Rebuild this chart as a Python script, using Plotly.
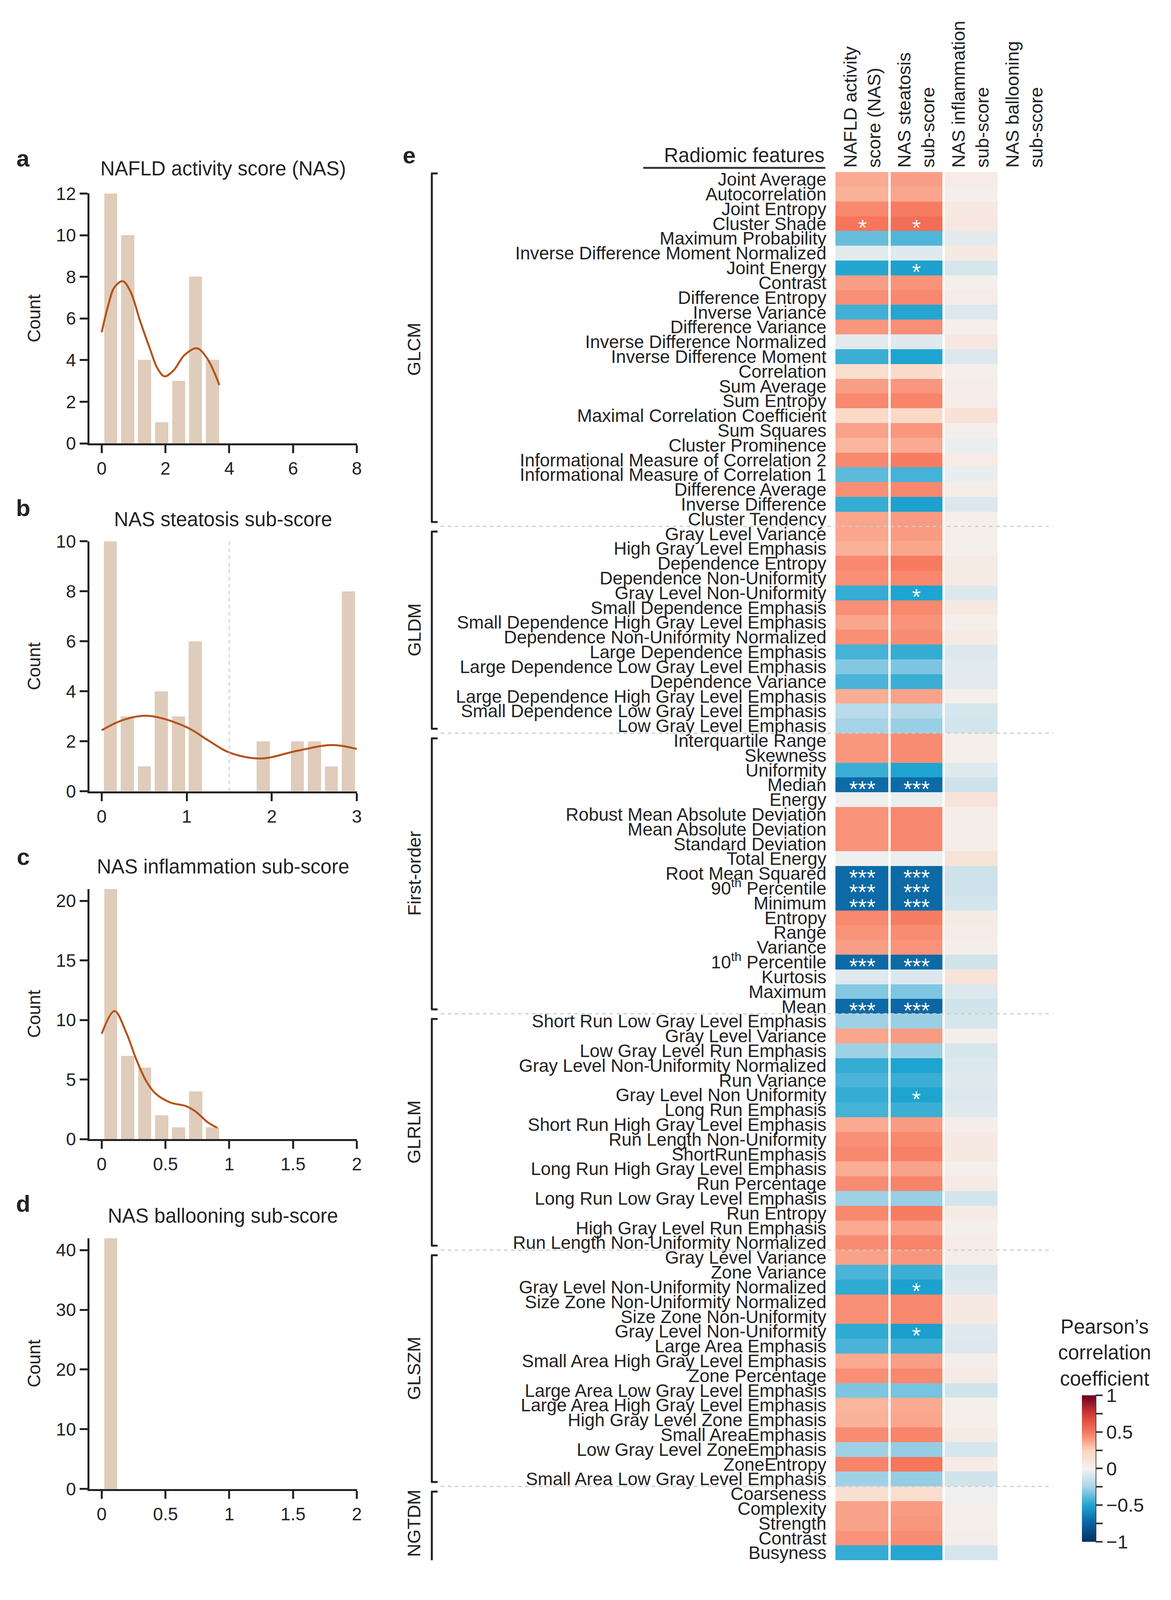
import plotly.graph_objects as go

REF_W, REF_H = 2998, 4557
# the visible page is 2998x4096, so the figure is drawn a bit smaller and everything is placed in paper fractions
FIG_W, FIG_H = 2980, 4050
FONT = "Liberation Sans, Arial, sans-serif"
INK = "#222222"


def px(x):
    return x / REF_W


def py(y):
    return 1 - y / REF_H


# ---- panels a-d: histograms of NAS scores ----
nas_bins = [0.28, 0.81, 1.34, 1.88, 2.41, 2.94, 3.47]
nas_counts = [12, 10, 4, 1, 3, 8, 4]
nas_kde_x = [0, 0.2, 0.4, 0.66, 0.9, 1.2, 1.5, 1.75, 1.97, 2.25, 2.6, 2.98, 3.3, 3.69]
nas_kde_y = [5.34, 6.6, 7.5, 7.79, 7.3, 5.9, 4.6, 3.6, 3.22, 3.5, 4.25, 4.57, 4.1, 2.8]

steatosis_bins = [0.1, 0.3, 0.5, 0.7, 0.9, 1.1, 1.3, 1.5, 1.7, 1.9, 2.1, 2.3, 2.5, 2.7, 2.9]
steatosis_counts = [10, 3, 1, 4, 3, 6, 0, 0, 0, 2, 0, 2, 2, 1, 8]
steatosis_kde_x = [0, 0.25, 0.55, 1.0, 1.25, 1.5, 1.87, 2.3, 2.71, 3.0]
steatosis_kde_y = [2.44, 2.85, 3.02, 2.56, 2.04, 1.55, 1.31, 1.62, 1.85, 1.69]

inflammation_bins = [0.07, 0.203, 0.336, 0.469, 0.602, 0.735, 0.868]
inflammation_counts = [21, 7, 6, 2, 1, 4, 1]
inflammation_kde_x = [0, 0.1, 0.193, 0.27, 0.348, 0.425, 0.541, 0.657, 0.734, 0.831, 0.905]
inflammation_kde_y = [8.83, 10.75, 8.92, 6.72, 4.89, 3.79, 3.06, 2.78, 2.33, 1.41, 0.95]

ballooning_bins = [0.07]
ballooning_counts = [42]

panels = [
    dict(letter="a", title="NAFLD activity score (NAS)", bins=nas_bins, counts=nas_counts,
         kde=(nas_kde_x, nas_kde_y), width=0.41, xr=[-0.388, 8], xt=[0, 2, 4, 6, 8],
         yr=[0, 12], yt=[0, 2, 4, 6, 8, 10, 12], top=526, bot=1255, title_y=453, letter_y=423),
    dict(letter="b", title="NAS steatosis sub-score", bins=steatosis_bins, counts=steatosis_counts,
         kde=(steatosis_kde_x, steatosis_kde_y), width=0.155, xr=[-0.1455, 3], xt=[0, 1, 2, 3],
         yr=[0, 10], yt=[0, 2, 4, 6, 8, 10], top=1541, bot=2270, title_y=1477, letter_y=1444),
    dict(letter="c", title="NAS inflammation sub-score", bins=inflammation_bins, counts=inflammation_counts,
         kde=(inflammation_kde_x, inflammation_kde_y), width=0.103, xr=[-0.097, 2], xt=[0, 0.5, 1, 1.5, 2],
         yr=[0, 21], yt=[0, 5, 10, 15, 20], top=2555, bot=3285, title_y=2490, letter_y=2461),
    dict(letter="d", title="NAS ballooning sub-score", bins=ballooning_bins, counts=ballooning_counts,
         kde=None, width=0.103, xr=[-0.097, 2], xt=[0, 0.5, 1, 1.5, 2],
         yr=[0, 42], yt=[0, 10, 20, 30, 40], top=3574, bot=4306, title_y=3509, letter_y=3474),
]

# ---- panel e: correlation heatmap ----
glcm = ["Joint Average", "Autocorrelation", "Joint Entropy", "Cluster Shade", "Maximum Probability",
        "Inverse Difference Moment Normalized", "Joint Energy", "Contrast", "Difference Entropy",
        "Inverse Variance", "Difference Variance", "Inverse Difference Normalized",
        "Inverse Difference Moment", "Correlation", "Sum Average", "Sum Entropy",
        "Maximal Correlation Coefficient", "Sum Squares", "Cluster Prominence",
        "Informational Measure of Correlation 2", "Informational Measure of Correlation 1",
        "Difference Average", "Inverse Difference", "Cluster Tendency"]
gldm = ["Gray Level Variance", "High Gray Level Emphasis", "Dependence Entropy",
        "Dependence Non-Uniformity", "Gray Level Non-Uniformity", "Small Dependence Emphasis",
        "Small Dependence High Gray Level Emphasis", "Dependence Non-Uniformity Normalized",
        "Large Dependence Emphasis", "Large Dependence Low Gray Level Emphasis", "Dependence Variance",
        "Large Dependence High Gray Level Emphasis", "Small Dependence Low Gray Level Emphasis",
        "Low Gray Level Emphasis"]
first_order = ["Interquartile Range", "Skewness", "Uniformity", "Median", "Energy",
               "Robust Mean Absolute Deviation", "Mean Absolute Deviation", "Standard Deviation",
               "Total Energy", "Root Mean Squared", "90<sup>th</sup> Percentile", "Minimum", "Entropy",
               "Range", "Variance", "10<sup>th</sup> Percentile", "Kurtosis", "Maximum", "Mean"]
glrlm = ["Short Run Low Gray Level Emphasis", "Gray Level Variance", "Low Gray Level Run Emphasis",
         "Gray Level Non-Uniformity Normalized", "Run Variance", "Gray Level Non Uniformity",
         "Long Run Emphasis", "Short Run High Gray Level Emphasis", "Run Length Non-Uniformity",
         "ShortRunEmphasis", "Long Run High Gray Level Emphasis", "Run Percentage",
         "Long Run Low Gray Level Emphasis", "Run Entropy", "High Gray Level Run Emphasis",
         "Run Length Non-Uniformity Normalized"]
glszm = ["Gray Level Variance", "Zone Variance", "Gray Level Non-Uniformity Normalized",
         "Size Zone Non-Uniformity Normalized", "Size Zone Non-Uniformity", "Gray Level Non-Uniformity",
         "Large Area Emphasis", "Small Area High Gray Level Emphasis", "Zone Percentage",
         "Large Area Low Gray Level Emphasis", "Large Area High Gray Level Emphasis",
         "High Gray Level Zone Emphasis", "Small AreaEmphasis", "Low Gray Level ZoneEmphasis",
         "ZoneEntropy", "Small Area Low Gray Level Emphasis"]
ngtdm = ["Coarseness", "Complexity", "Strength", "Contrast", "Busyness"]

groups = [("GLCM", glcm), ("GLDM", gldm), ("First-order", first_order),
          ("GLRLM", glrlm), ("GLSZM", glszm), ("NGTDM", ngtdm)]

score_names = ["NAFLD activity<br>score (NAS)", "NAS steatosis<br>sub-score",
               "NAS inflammation<br>sub-score", "NAS ballooning<br>sub-score"]

r_nas = [
    # GLCM
    0.36, 0.34, 0.45, 0.50, -0.37, -0.06, -0.49, 0.39, 0.43, -0.44, 0.41, -0.06,
    -0.45, 0.17, 0.39, 0.45, 0.20, 0.38, 0.33, 0.45, -0.39, 0.43, -0.46, 0.37,
    # GLDM
    0.37, 0.34, 0.45, 0.43, -0.46, 0.43, 0.37, 0.43, -0.43, -0.32, -0.42, 0.35, -0.20, -0.26,
    # First-order
    0.41, 0.41, -0.45, -0.72, -0.02, 0.42, 0.42, 0.42, -0.02, -0.72, -0.72, -0.72,
    0.45, 0.42, 0.39, -0.72, -0.07, -0.32, -0.72,
    # GLRLM
    -0.27, 0.37, -0.27, -0.46, -0.42, -0.46, -0.43, 0.36, 0.43, 0.45, 0.35, 0.44,
    -0.27, 0.45, 0.36, 0.44,
    # GLSZM
    0.38, -0.42, -0.47, 0.43, 0.43, -0.47, -0.42, 0.36, 0.43, -0.33, 0.33, 0.34,
    0.44, -0.27, 0.46, -0.27,
    # NGTDM
    0.15, 0.38, 0.38, 0.42, -0.46,
]
r_steatosis = [
    0.39, 0.37, 0.48, 0.53, -0.41, -0.07, -0.51, 0.42, 0.45, -0.49, 0.43, -0.07,
    -0.50, 0.18, 0.41, 0.46, 0.20, 0.41, 0.36, 0.48, -0.43, 0.45, -0.51, 0.40,
    0.40, 0.37, 0.49, 0.45, -0.50, 0.45, 0.42, 0.44, -0.46, -0.33, -0.45, 0.38, -0.21, -0.28,
    0.44, 0.44, -0.50, -0.72, -0.03, 0.45, 0.45, 0.45, -0.03, -0.72, -0.72, -0.72,
    0.48, 0.44, 0.42, -0.72, -0.08, -0.33, -0.73,
    -0.28, 0.40, -0.28, -0.50, -0.45, -0.50, -0.45, 0.40, 0.45, 0.47, 0.38, 0.46,
    -0.28, 0.48, 0.39, 0.46,
    0.41, -0.45, -0.51, 0.45, 0.45, -0.52, -0.45, 0.39, 0.45, -0.34, 0.36, 0.37,
    0.46, -0.29, 0.50, -0.29,
    0.16, 0.40, 0.41, 0.44, -0.49,
]
r_inflammation = [
    0.05, 0.02, 0.07, 0.08, -0.06, 0.07, -0.10, 0.02, 0.05, -0.08, 0.02, 0.08,
    -0.08, 0.02, 0.03, 0.04, 0.13, 0.02, -0.03, 0.05, -0.04, 0.04, -0.08, 0.02,
    0.02, 0.02, 0.06, 0.06, -0.08, 0.07, 0.02, 0.06, -0.08, -0.06, -0.06, 0.02, -0.10, -0.11,
    0.02, 0.02, -0.07, -0.13, 0.12, 0.03, 0.03, 0.03, 0.12, -0.13, -0.13, -0.11,
    0.06, 0.05, 0.03, -0.12, 0.12, -0.08, -0.12,
    -0.10, 0.03, -0.10, -0.08, -0.07, -0.08, -0.07, 0.03, 0.07, 0.07, 0.02, 0.06,
    -0.11, 0.06, 0.02, 0.05,
    0.03, -0.09, -0.07, 0.07, 0.07, -0.07, -0.08, 0.03, 0.06, -0.12, 0.02, 0.02,
    0.06, -0.10, 0.05, -0.12,
    -0.01, 0.02, 0.02, 0.03, -0.10,
]
# significance marks (NAS / steatosis columns)
sig_nas = [
    "", "", "", "*", "", "", "", "", "", "", "", "", "", "", "", "", "", "", "", "", "", "", "", "",
    "", "", "", "", "", "", "", "", "", "", "", "", "", "",
    "", "", "", "***", "", "", "", "", "", "***", "***", "***", "", "", "", "***", "", "", "***",
    "", "", "", "", "", "", "", "", "", "", "", "", "", "", "", "",
    "", "", "", "", "", "", "", "", "", "", "", "", "", "", "", "",
    "", "", "", "", "",
]
sig_steatosis = [
    "", "", "", "*", "", "", "*", "", "", "", "", "", "", "", "", "", "", "", "", "", "", "", "", "",
    "", "", "", "", "*", "", "", "", "", "", "", "", "", "",
    "", "", "", "***", "", "", "", "", "", "***", "***", "***", "", "", "", "***", "", "", "***",
    "", "", "", "", "", "*", "", "", "", "", "", "", "", "", "", "",
    "", "", "*", "", "", "*", "", "", "", "", "", "", "", "", "", "",
    "", "", "", "", "",
]

labels = [name for _, feats in groups for name in feats]
n = len(labels)
z = [[a, b, c, None] for a, b, c in zip(r_nas, r_steatosis, r_inflammation)]

rdbu = [[0.0, "#053061"], [0.125, "#0a62a0"], [0.25, "#1ea4d0"], [0.375, "#aad5e8"],
        [0.5, "#f4f1f0"], [0.625, "#fcd3bd"], [0.75, "#f7755a"], [0.875, "#cf3a35"],
        [1.0, "#6a0020"]]

fig = go.Figure()
layout = {}
annotations = []
shapes = []


def note(text, x, y, size=47, xref="paper", yref="paper", **kw):
    d = dict(text=text, x=x, y=y, xref=xref, yref=yref, showarrow=False, xanchor="center",
             yanchor="middle", font=dict(family=FONT, size=size, color=INK))
    d.update(kw)
    annotations.append(d)


axis_style = dict(showline=True, linewidth=5, linecolor=INK, ticks="outside", ticklen=20,
                  tickwidth=5, tickcolor=INK, showgrid=False, zeroline=False,
                  tickfont=dict(family=FONT, size=46, color=INK))

for i, p in enumerate(panels, start=1):
    xa, ya = f"x{i}", f"y{i}"
    fig.add_trace(go.Bar(x=p["bins"], y=p["counts"], width=p["width"], marker_color="#e0ccba",
                         marker_line_width=0, xaxis=xa, yaxis=ya))
    if p["kde"]:
        fig.add_trace(go.Scatter(x=p["kde"][0], y=p["kde"][1], mode="lines", line_shape="spline",
                                 line=dict(color="#b5521a", width=5), xaxis=xa, yaxis=ya))
    layout[f"xaxis{i}"] = dict(axis_style, domain=[px(223), px(915)], range=p["xr"],
                               tickvals=p["xt"], anchor=ya)
    layout[f"yaxis{i}"] = dict(axis_style, domain=[py(p["bot"]), py(p["top"])], range=p["yr"],
                               tickvals=p["yt"], anchor=xa)
    note(p["title"], px(569), py(p["title_y"]), size=51)
    note(f"<b>{p['letter']}</b>", px(52), py(p["letter_y"]), size=60)
    note("Count", px(80), py((p["top"] + p["bot"]) / 2), size=46, textangle=-90)

# steatosis cut-off
shapes.append(dict(type="line", xref="x2", yref="y2", x0=1.5, x1=1.5, y0=0, y1=10,
                   line=dict(color="#cfcfcf", width=3, dash="dash")))

fig.add_trace(go.Heatmap(
    z=z, x=[0, 1, 2, 3], y=list(range(n)), zmin=-1, zmax=1, colorscale=rdbu,
    xaxis="x5", yaxis="y5", hoverongaps=False,
    colorbar=dict(x=px(2791), xanchor="left", y=py(4460), yanchor="bottom", len=428 / REF_H,
                  lenmode="fraction", thickness=35, thicknessmode="pixels", xpad=0, ypad=0,
                  outlinewidth=0, tickvals=[-1, -0.75, -0.5, -0.25, 0, 0.25, 0.5, 0.75, 1],
                  ticktext=["−1", " ", "−0.5", " ", "0", " ", "0.5", " ", "1"], ticks="outside",
                  ticklen=18, tickwidth=4, tickcolor="#333333",
                  tickfont=dict(family=FONT, size=49, color=INK)),
))

layout["xaxis5"] = dict(domain=[px(2153), px(2713)], range=[-0.5, 3.5], side="top", anchor="y5",
                        tickvals=[0, 1, 2, 3], ticktext=score_names, tickangle=-90, ticks="",
                        showgrid=False, zeroline=False, ticklabelstandoff=10,
                        tickfont=dict(family=FONT, size=47, color=INK))
layout["yaxis5"] = dict(domain=[py(4514), py(463)], range=[n - 0.5, -0.5], anchor="x5",
                        tickvals=list(range(n)), ticktext=labels, ticks="", showgrid=False,
                        zeroline=False, ticklabelstandoff=22,
                        tickfont=dict(family=FONT, size=46, color=INK))

# white separators between score columns
for xs in [0.5, 1.5]:
    shapes.append(dict(type="line", xref="x5", yref="y5", x0=xs, x1=xs, y0=-0.5, y1=n - 0.5,
                       line=dict(color="white", width=6)))

# significance marks
for row, (s1, s2) in enumerate(zip(sig_nas, sig_steatosis)):
    for col, s in ((0, s1), (1, s2)):
        if s:
            note(s, col, row, xref="x5", yref="y5", yshift=-10,
                 font=dict(family=FONT, size=58, color="white"))

# group brackets, labels and dashed separators
start = 0
for gi, (gname, feats) in enumerate(groups):
    end = start + len(feats) - 1
    top = start - 0.5 + (0.1 if gi == 0 else 0.35)
    bot = end + 0.5 - (0.3 if gi < len(groups) - 1 else -0.1)
    shapes.append(dict(type="line", xref="paper", yref="y5", x0=px(1109), x1=px(1109), y0=top, y1=bot,
                       line=dict(color=INK, width=5)))
    for yy in (top, bot):
        shapes.append(dict(type="line", xref="paper", yref="y5", x0=px(1107), x1=px(1124), y0=yy, y1=yy,
                           line=dict(color=INK, width=5)))
    note(gname, px(1063), (start + end) / 2, size=47, yref="y5", textangle=-90)
    if gi < len(groups) - 1:
        shapes.append(dict(type="line", xref="paper", yref="y5", x0=px(1132), x1=px(2716),
                           y0=end + 0.5, y1=end + 0.5, line=dict(color="#cccccc", width=3, dash="dash")))
    start = end + 1

# header of panel e
note("<b>e</b>", px(1050), py(414), size=60)
note("Radiomic features", px(2127), py(414), size=51, xanchor="right")
shapes.append(dict(type="line", xref="paper", yref="paper", x0=px(1656), x1=px(2127),
                   y0=py(451), y1=py(451), line=dict(color="#333333", width=5)))

# colorbar title and spine
note("Pearson’s<br>correlation<br>coefficient", px(2849), py(3909), size=51)
shapes.append(dict(type="line", xref="paper", yref="paper", x0=px(2826), x1=px(2826),
                   y0=py(4032), y1=py(4460), line=dict(color="#333333", width=4)))

fig.update_layout(
    width=FIG_W, height=FIG_H, margin=dict(l=0, r=0, t=0, b=0),
    paper_bgcolor="white", plot_bgcolor="white", showlegend=False,
    font=dict(family=FONT, color=INK), bargap=0,
    annotations=annotations, shapes=shapes, **layout,
)

fig.write_html("out.html")
